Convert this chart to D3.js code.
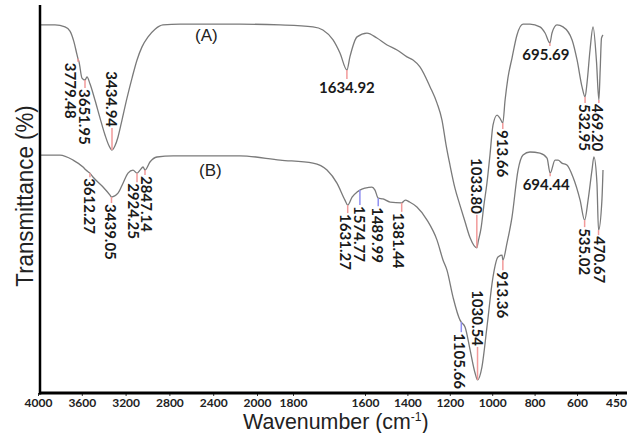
<!DOCTYPE html>
<html><head><meta charset="utf-8">
<script src="https://cdn.jsdelivr.net/npm/d3@7"></script>
<style>body{margin:0;background:#fff}</style>
</head><body>
<svg id="chart" width="629" height="433"></svg>
<script>
// ---------- DATA ----------
const seriesNames = ["(A)", "(B)"];
const wavenumberA = [4000,3913,3855,3826,3803,3785,3779.48,3761,3707,3651.95,3636,3612,3572,3531,3491,3459,3434.94,3374,3312,3231,3129,3026,2924,2876,2826,2778,2723,2606,2193,1944,1792,1746,1699,1667,1634.92,1621,1588,1542,1496,1449,1403,1357,1329,1297,1250,1218,1195,1176,1158,1135,1112,1088,1065,1033.80,1028,1014,1001,987,973,959,940,927,913.66,903,890,871,848,820,788,742,718,695.69,686,663,635,593,570,547,532.95,524,510,496,480,469.20,463,457,450];
const transA = [95.6,95.6,95.1,94.0,91.2,87.8,86.8,86.0,81.8,81.3,82.1,80.3,76.1,71.4,67.0,64.2,63.1,64.2,66.5,70.9,76.6,81.8,86.5,89.9,92.5,94.5,95.6,95.8,95.8,95.6,95.1,94.3,91.7,88.3,83.9,87.3,92.5,93.5,92.2,90.4,89.1,87.3,86.5,84.7,79.5,75.3,70.9,64.4,59.2,53.2,48.8,44.4,40.3,37.7,39.2,42.9,48.8,54.5,61.8,69.6,72.2,71.4,70.1,76.1,81.8,87.0,93.0,95.8,95.8,95.1,93.5,90.9,93.5,95.6,95.1,91.7,86.5,79.5,76.9,80.5,89.1,95.1,86.0,76.1,84.0,92.2,93.0];
const wavenumberB = [4000,3884,3808,3688,3644,3612.27,3588,3507,3451,3439.05,3312,3210,3108,3006,2924.25,2895,2866,2847.14,2813,2765,2654,2193,1944,1792,1727,1681,1644,1631.27,1611,1588,1574.77,1551,1519,1505,1489.99,1468,1435,1381.44,1365,1345,1311,1264,1218,1190,1172,1144,1112,1105.66,1088,1065,1042,1030.54,1010,987,959,936,917,913.36,894,871,843,820,788,742,709,694.44,672,658,640,617,589,556,535.02,519,501,492,478,470.67,455,450];
const transB = [61.8,61.8,60.5,58.7,57.9,57.1,56.1,53.5,51.4,50.9,51.9,54.5,57.1,57.9,57.1,57.9,58.7,57.9,60.0,61.3,61.6,61.6,60.5,59.7,57.9,54.5,50.1,48.8,50.9,52.2,52.7,53.2,53.5,52.7,50.6,50.4,49.6,49.4,50.1,49.6,48.3,44.9,39.7,34.5,31.9,24.9,19.0,18.4,17.1,11.2,5.2,3.4,6.8,17.1,30.1,35.3,35.8,34.5,39.0,45.7,57.9,61.8,62.6,62.3,61.0,57.1,60.5,60.5,59.7,59.2,56.1,50.1,44.9,50.1,57.9,61.3,54.5,42.3,50.1,57.9];
const peaksA = ["3779.48","3651.95","3434.94","1634.92","1033.80","913.66","695.69","532.95","469.20"];
const peaksB = ["3612.27","3439.05","2924.25","2847.14","1631.27","1574.77","1489.99","1381.44","1105.66","1030.54","913.36","694.44","535.02","470.67"];
const tickValues = [4000,3600,3200,2800,2400,2000,1800,1600,1400,1200,1000,800,600,450];
const xTitle = "Wavenumber (cm";
const yTitle = "Transmittance (%)";

// ---------- LAYOUT (not data) ----------
const peakLayout = {
  "3779.48":{dx:-7,dir:1,len:3,o:"v",c:"r"},
  "3651.95":{dx:0,dir:1,len:8,o:"v",c:"r"},
  "3434.94":{dx:0,dir:-1,len:22,o:"v",c:"r"},
  "1634.92":{dx:0,dir:1,len:9,o:"h",c:"r"},
  "1033.80":{dx:0,dir:-1,len:33,o:"v",c:"r"},
  "913.66":{dx:0,dir:1,len:6,o:"v",c:"r"},
  "695.69":{dx:-4,dir:1,len:3,o:"h",c:"r"},
  "532.95":{dx:0,dir:1,len:6,o:"v",c:"r"},
  "469.20":{dx:-1,dir:1,len:3,o:"v",c:"r"},
  "3612.27":{dx:0,dir:1,len:4,o:"v",c:"r"},
  "3439.05":{dx:0,dir:1,len:6,o:"v",c:"r"},
  "2924.25":{dx:-3,dir:1,len:9,o:"v",c:"r"},
  "2847.14":{dx:2,dir:1,len:5,o:"v",c:"r"},
  "1631.27":{dx:-2,dir:1,len:8,o:"v",c:"r"},
  "1574.77":{dx:0,dir:1,len:15,o:"v",c:"b"},
  "1489.99":{dx:0,dir:1,len:8,o:"v",c:"b"},
  "1381.44":{dx:-3,dir:1,len:9,o:"v",c:"r"},
  "1105.66":{dx:-1,dir:1,len:10,o:"v",c:"b"},
  "1030.54":{dx:0,dir:-1,len:33,o:"v",c:"r"},
  "913.36":{dx:0,dir:1,len:10,o:"v",c:"r"},
  "694.44":{dx:-4,dir:1,len:3,o:"h",c:"r"},
  "535.02":{dx:0,dir:1,len:7,o:"v",c:"r"},
  "470.67":{dx:1,dir:1,len:5,o:"v",c:"r"}
};
const markColors = {r:"#f29a9a", b:"#8f8ff0"};

const svg = d3.select("#chart");
// Calibrated (non-linear) wavenumber scale of the instrument plot
const x = d3.scaleLinear()
  .domain([4000,3779.48,3651.95,3434.94,2924.25,2847.14,2000,450])
  .range([40,78,85,112,137,145,268,603]);
// Tick label placement of the printed axis
const xAxisScale = d3.scaleLinear()
  .domain([4000,2000,1800,1600,600,450])
  .range([38,257,293,365,577,616]);
const y = d3.scaleLinear().domain([0,100]).range([393,8]);

const line = d3.line().x(d=>x(d[0])).y(d=>y(d[1])).curve(d3.curveMonotoneX);
const dataA = wavenumberA.map((w,i)=>[w,transA[i]]);
const dataB = wavenumberB.map((w,i)=>[w,transB[i]]);

[dataA,dataB].forEach(d=>{
  svg.append("path").datum(d).attr("d",line)
    .attr("fill","none").attr("stroke","#7a7a7a").attr("stroke-width",1.3);
});

function tAt(wns, ts, w){
  for(let i=0;i<wns.length-1;i++){
    if(wns[i]>=w && wns[i+1]<=w){
      const f=(wns[i]-w)/(wns[i]-wns[i+1]);
      return ts[i]+f*(ts[i+1]-ts[i]);
    }
  }
  return ts[ts.length-1];
}

function drawPeaks(labels, wns, ts){
  labels.forEach(lab=>{
    const w=+lab, L=peakLayout[lab];
    const px=x(w), py=y(tAt(wns,ts,w));
    svg.append("line").attr("x1",px).attr("x2",px)
      .attr("y1",py).attr("y2",py+L.dir*L.len)
      .attr("stroke",markColors[L.c]).attr("stroke-width",1.5);
    const g=svg.append("text").text(lab)
      .attr("font-family","Lato, 'Open Sans', sans-serif")
      .attr("font-weight","bold").attr("font-size",15).attr("fill","#1a1a1a");
    if(L.o==="h"){
      g.attr("x",px+L.dx).attr("y",py+L.len+14).attr("text-anchor","middle");
    } else {
      const ys=py+L.dir*(L.len+1);
      g.attr("transform",`translate(${px+L.dx},${ys}) rotate(90)`)
       .attr("text-anchor",L.dir>0?"start":"end")
       .attr("dominant-baseline","central");
    }
  });
}
drawPeaks(peaksA, wavenumberA, transA);
drawPeaks(peaksB, wavenumberB, transB);

// series letters
svg.append("text").text(seriesNames[0]).attr("x",195).attr("y",41)
  .attr("font-family","Liberation Sans, Arial, sans-serif").attr("font-size",17).attr("fill","#222");
svg.append("text").text(seriesNames[1]).attr("x",199).attr("y",176)
  .attr("font-family","Liberation Sans, Arial, sans-serif").attr("font-size",17).attr("fill","#222");

// axis ticks & labels
const ax = svg.append("g").attr("transform","translate(0,393)")
  .call(d3.axisBottom(xAxisScale).tickValues(tickValues).tickSize(3).tickPadding(2).tickFormat(d3.format("d")));
ax.select(".domain").remove();
ax.selectAll("text").attr("font-family","Lato, sans-serif").attr("font-weight","bold")
  .attr("font-size",12).attr("fill","#222");
ax.selectAll("line").attr("stroke","#333");

// spines
svg.append("line").attr("x1",40).attr("x2",40).attr("y1",5).attr("y2",394.5)
  .attr("stroke","#000").attr("stroke-width",2.5);
svg.append("line").attr("x1",39).attr("x2",627).attr("y1",393).attr("y2",393)
  .attr("stroke","#000").attr("stroke-width",3);

// axis titles
const xt = svg.append("text").attr("transform","translate(243,429) scale(0.93,1)")
  .attr("font-family","Liberation Sans, Arial, sans-serif").attr("font-size",23).attr("fill","#222");
xt.append("tspan").text(xTitle);
xt.append("tspan").text("-1").attr("font-size",13).attr("dy",-8);
xt.append("tspan").text(")").attr("dy",8);

svg.append("text").text(yTitle)
  .attr("transform","translate(33,196) rotate(-90) scale(0.93,1)")
  .attr("text-anchor","middle")
  .attr("font-family","Liberation Sans, Arial, sans-serif").attr("font-size",24).attr("fill","#222");
</script>
</body></html>
